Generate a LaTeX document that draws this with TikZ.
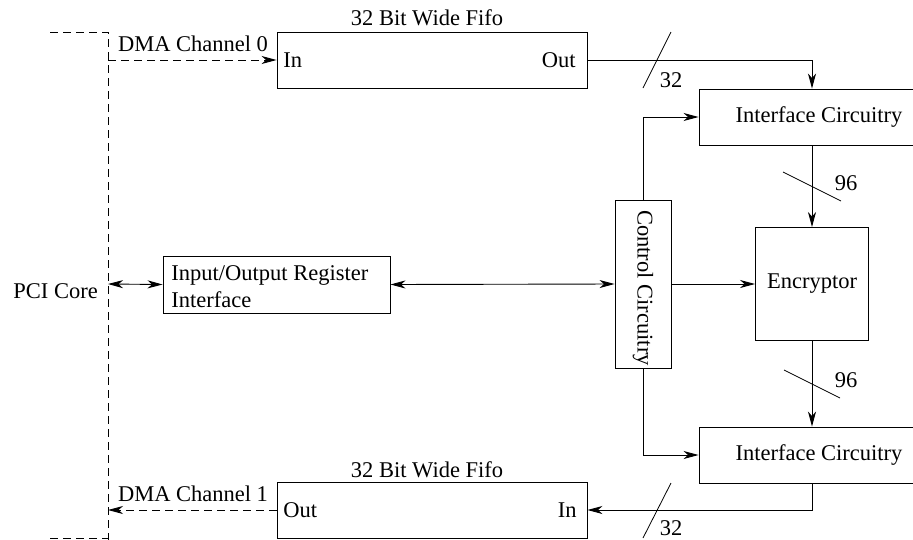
\documentclass[tikz,border=0pt]{standalone}
\usepackage{fontspec}
\setmainfont{Liberation Serif}
\usetikzlibrary{arrows.meta,calc}

\begin{document}
\begin{tikzpicture}[x=1pt,y=-1pt,
  line width=0.9pt,
  font=\fontsize{22.5}{27}\selectfont,
  box/.style={draw, rectangle, inner sep=0pt},
  txt/.style={inner sep=0pt},
  tip/.tip={Stealth[length=15pt,width=8pt,inset=4.5pt]},
  conn/.style={-tip},
  biconn/.style={tip-tip},
  buspath/.style={dash pattern=on 8pt off 5pt},
  slash/.style={line width=0.8pt}]

\useasboundingbox (0,0) rectangle (913,539);

% PCI core boundary (dashed)
\coordinate (pcitop) at (108,32);
\coordinate (pcibot) at (108,545);
\draw[buspath] (50,32) -- (pcitop) -- (pcibot);
\draw[buspath] (50,538) -- (108,538);
\node[txt, anchor=base west] (pci) at (13,298) {PCI Core};
\coordinate (pcidma0) at (108,60);
\coordinate (pciio)   at (108,284);
\coordinate (pcidma1) at (108,510);

% blocks
\node[box, minimum width=310pt, minimum height=56pt] (fifo0) at (432,60) {};
\node[box, minimum width=310pt, minimum height=56pt] (fifo1) at (432,510) {};
\node[box, minimum width=240pt, minimum height=56pt] (ifc0) at (819,117) {Interface Circuitry};
\node[box, minimum width=240pt, minimum height=56pt] (ifc1) at (819,455) {Interface Circuitry};
\node[box, minimum width=113pt, minimum height=113pt] (enc) at (812,284) {Encryptor};
\node[box, minimum width=56pt, minimum height=168pt] (ctrl) at (643,284) {};
\node[txt, rotate=-90] (ctrltext) at (643,288) {Control Circuitry};
\node[box, minimum width=227pt, minimum height=57pt] (io) at (276.5,284.5) {};
\node[txt, anchor=base west] (iotext1) at (171,280) {Input/Output Register};
\node[txt, anchor=base west] (iotext2) at (171,307) {Interface};

% fifo titles and port labels
\node[txt] (fifo0title) at (427,18) {32 Bit Wide Fifo};
\node[txt] (fifo1title) at (427,470) {32 Bit Wide Fifo};
\node[txt, anchor=west] (fifo0in) at (283,60) {In};
\node[txt, anchor=east] (fifo0out) at (576,60) {Out};
\node[txt, anchor=west] (fifo1out) at (283,510) {Out};
\node[txt, anchor=east] (fifo1in) at (577,510) {In};

% DMA channels
\draw[buspath, conn] (pcidma0) -- (fifo0.west);
\node[txt] (dma0) at (193,44) {DMA Channel 0};
\draw[buspath, conn] (fifo1.west) -- (pcidma1);
\node[txt] (dma1) at (193,494) {DMA Channel 1};

% register interface
\draw[biconn] (pciio) -- (io.west);
\draw[biconn] (io.east) -- (ctrl.west);

% control paths
\draw[conn] (ctrl.north) |- (ifc0.west);
\draw[conn] (ctrl.south) |- (ifc1.west);
\draw[conn] (ctrl.east) -- (enc.west);

% data path
\draw[conn] (fifo0.east) -| (ifc0.north -| enc.north);
\draw[conn] (ifc0.south -| enc.north) -- (enc.north);
\draw[conn] (enc.south) -- (ifc1.north -| enc.south);
\draw[conn] (ifc1.south -| enc.south) |- (fifo1.east);

% bus width marks
\draw[slash] (643,88) -- (671,32);
\node[txt] (w32a) at (671,80) {32};
\draw[slash] (783,172) -- (841,201);
\node[txt] (w96a) at (846,183) {96};
\draw[slash] (784,370) -- (840,398);
\node[txt] (w96b) at (846,380) {96};
\draw[slash] (643,538) -- (671,483);
\node[txt] (w32b) at (671,528) {32};

\end{tikzpicture}
\end{document}
